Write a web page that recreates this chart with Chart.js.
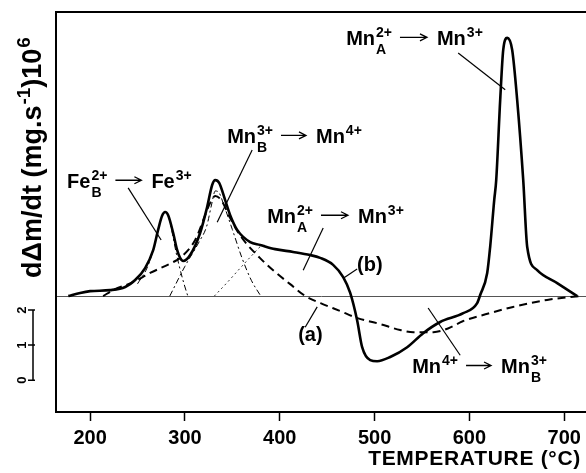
<!DOCTYPE html>
<html>
<head>
<meta charset="utf-8">
<script src="https://cdn.jsdelivr.net/npm/chart.js@4/dist/chart.umd.min.js"></script>
<style>
  html, body { margin: 0; padding: 0; background: #fff; }
  #contenedor { width: 586px; height: 473px; }
</style>
</head>
<body>
<div id="contenedor"><canvas id="grafica" width="586" height="473"></canvas></div>
<script>
// Curva (b), línea continua gruesa: temperatura (°C) y dΔm/dt
const tempB = [177, 189.5, 200, 221, 237, 247.5, 258, 266.5, 271.7, 275.9, 279.1, 282.3, 287.6, 291.8, 294.9, 298.1,
  305.5, 316, 323.4, 328.7, 331.9, 336.1, 342.4, 347.7, 355.1, 368.8, 379.3, 395.1, 414.1, 432.1, 442.6, 456.3,
  466.9, 474.3, 481.6, 486.9, 495.4, 502.7, 516.5, 534.4, 551.3, 569.2, 593.5, 608.2, 611.4, 618.8, 621.9, 626.2,
  628.3, 632.5, 635.7, 639.9, 645.1, 650.4, 656.8, 661, 671.5, 692.6, 713.7];
const valB = [0, 0.09, 0.14, 0.17, 0.26, 0.46, 0.8, 1.31, 1.89, 2.29, 2.4, 2.31, 1.8, 1.31, 1.09, 1.0,
  1.17, 1.8, 2.54, 3.17, 3.31, 3.23, 2.74, 2.31, 1.89, 1.54, 1.46, 1.34, 1.26, 1.17, 1.09, 0.89,
  0.54, 0.09, -0.69, -1.46, -1.83, -1.86, -1.74, -1.46, -1.06, -0.74, -0.49, -0.2, 0.03, 0.66, 1.4, 2.74,
  3.31, 5.6, 7.03, 7.37, 7.03, 5.6, 3.31, 1.4, 0.74, 0.37, 0];

// Curva (a), línea discontinua
const tempA = [213.7, 224.3, 245.4, 263.3, 287.6, 294.9, 310.8, 321.3, 326.6, 331.9, 338.2, 347.7, 358, 379, 395,
  411, 427, 443, 464, 482, 506, 527, 541, 562, 578, 593, 620, 646, 682, 716];
const valA = [0, 0.17, 0.4, 0.66, 0.97, 1.09, 1.6, 2.31, 2.66, 2.86, 2.74, 2.23, 1.74, 1.09, 0.69,
  0.34, 0, -0.2, -0.43, -0.63, -0.8, -0.97, -1.03, -1.03, -0.92, -0.72, -0.5, -0.31, -0.11, 0];

// Componentes de la deconvolución (líneas finas)
const tempFe = [250, 260, 266.5, 271.7, 275.9, 279.1, 282.3, 287, 291, 295, 299, 303];
const valFe = [0.35, 0.8, 1.31, 1.89, 2.29, 2.4, 2.31, 1.75, 1.2, 0.75, 0.35, 0];
const tempMnB = [284, 300, 315, 323, 328, 332, 336, 341, 350, 360, 370, 380];
const valMnB = [0, 0.85, 1.55, 2.0, 2.6, 3.0, 2.95, 2.6, 1.9, 1.1, 0.45, 0];
const tempMnA = [331, 345, 360, 372, 380, 384];
const valMnA = [0, 0.4, 0.85, 1.2, 1.42, 1.45];

// Marcas del eje X y barra de escala del lado izquierdo
const ticksX = [200, 300, 400, 500, 600, 700];
const barraValores = [-2.4, -1.4, -0.4];
const barraEtiquetas = ['0', '1', '2'];

const FUENTE = '"Liberation Sans", Arial, Helvetica, sans-serif';

function puntos(xs, ys) {
    return xs.map((x, i) => ({ x: x, y: ys[i] }));
}

// Dibuja texto con superíndices, subíndices y flechas
function textoRico(ctx, x, y, partes, tam) {
    let cx = x;
    ctx.fillStyle = '#000';
    ctx.strokeStyle = '#000';
    ctx.textBaseline = 'alphabetic';
    ctx.textAlign = 'left';
    for (const p of partes) {
        if (typeof p === 'string') {
            ctx.font = `bold ${tam}px ${FUENTE}`;
            ctx.fillText(p, cx, y);
            cx += ctx.measureText(p).width;
        } else if (p.flecha) {
            const y0 = y - tam * 0.38;
            const x0 = cx + 8;
            const x1 = x0 + p.flecha;
            ctx.lineWidth = 1.3;
            ctx.beginPath();
            ctx.moveTo(x0, y0);
            ctx.lineTo(x1, y0);
            ctx.moveTo(x1 - 7, y0 - 3.5);
            ctx.lineTo(x1, y0);
            ctx.lineTo(x1 - 7, y0 + 3.5);
            ctx.stroke();
            cx = x1 + 10;
        } else {
            ctx.font = `bold ${Math.round(tam * 0.72)}px ${FUENTE}`;
            let w = 0;
            if (p.sup) {
                ctx.fillText(p.sup, cx + 1, y - tam * 0.4);
                w = Math.max(w, ctx.measureText(p.sup).width);
            }
            if (p.sub) {
                ctx.fillText(p.sub, cx + 1, y + tam * 0.45);
                w = Math.max(w, ctx.measureText(p.sub).width);
            }
            cx += w + 1;
        }
    }
    return cx - x;
}

// Etiquetas de las transiciones, en coordenadas de datos (temperatura, valor)
const etiquetas = [
    { t: 175.7, v: 3.09, partes: ['Fe', { sup: '2+', sub: 'B' }, { flecha: 26 }, 'Fe', { sup: '3+' }], linea: [240.1, 3.09, 274.9, 1.6] },
    { t: 344.5, v: 4.37, partes: ['Mn', { sup: '3+', sub: 'B' }, { flecha: 25 }, 'Mn', { sup: '4+' }], linea: [370.9, 4.17, 334.0, 2.11] },
    { t: 386.7, v: 2.09, partes: ['Mn', { sup: '2+', sub: 'A' }, { flecha: 27 }, 'Mn', { sup: '3+' }], linea: [445.8, 1.94, 424.7, 0.74] },
    { t: 481.6, v: 0.71, partes: ['(b)'], linea: [481.6, 0.77, 467, 0.51] },
    { t: 470, v: 7.17, partes: ['Mn', { sup: '2+', sub: 'A' }, { flecha: 27 }, 'Mn', { sup: '3+' }], linea: [588.2, 6.94, 637.8, 5.89] },
    { t: 419.4, v: -1.29, partes: ['(a)'], linea: [426.8, -0.89, 439.5, -0.31] },
    { t: 539.7, v: -2.2, partes: ['Mn', { sup: '4+' }, { flecha: 25 }, 'Mn', { sup: '3+', sub: 'B' }], linea: [556.5, -0.34, 590.3, -1.69] }
];

const pluginAnotaciones = {
    id: 'anotaciones',
    afterDraw(chart) {
        const ctx = chart.ctx;
        const sx = chart.scales.x;
        const sy = chart.scales.y;
        const area = chart.chartArea;
        ctx.save();

        // Borde superior
        ctx.strokeStyle = '#000';
        ctx.lineWidth = 2;
        ctx.beginPath();
        ctx.moveTo(area.left, area.top);
        ctx.lineTo(area.right, area.top);
        ctx.stroke();

        // Etiquetas y sus líneas indicadoras
        for (const e of etiquetas) {
            textoRico(ctx, sx.getPixelForValue(e.t), sy.getPixelForValue(e.v), e.partes, 20);
            const l = e.linea;
            ctx.lineWidth = 1.2;
            ctx.beginPath();
            ctx.moveTo(sx.getPixelForValue(l[0]), sy.getPixelForValue(l[1]));
            ctx.lineTo(sx.getPixelForValue(l[2]), sy.getPixelForValue(l[3]));
            ctx.stroke();
        }

        // Título del eje X
        ctx.save();
        ctx.font = `bold 21px ${FUENTE}`;
        ctx.letterSpacing = '0.7px';
        ctx.textAlign = 'right';
        ctx.textBaseline = 'alphabetic';
        ctx.fillText('TEMPERATURE (°C)', area.right - 5, 465);
        ctx.restore();

        // Título del eje Y, girado
        ctx.save();
        ctx.translate(41, 278);
        ctx.rotate(-Math.PI / 2);
        textoRico(ctx, 0, 0, ['dΔm/dt (mg.s', { sup: '-1' }, ')10', { sup: '6' }], 27);
        ctx.restore();

        // Barra de escala para la parte inferior
        const bx = area.left - 23;
        const yArriba = sy.getPixelForValue(barraValores[barraValores.length - 1]);
        const yAbajo = sy.getPixelForValue(barraValores[0]);
        ctx.lineWidth = 1.5;
        ctx.beginPath();
        ctx.moveTo(bx, yArriba);
        ctx.lineTo(bx, yAbajo);
        barraValores.forEach(v => {
            const yy = sy.getPixelForValue(v);
            ctx.moveTo(bx - 5, yy);
            ctx.lineTo(bx + 2, yy);
        });
        ctx.stroke();
        barraValores.forEach((v, i) => {
            ctx.save();
            ctx.translate(bx - 11, sy.getPixelForValue(v));
            ctx.rotate(-Math.PI / 2);
            ctx.font = `bold 13px ${FUENTE}`;
            ctx.textAlign = 'center';
            ctx.textBaseline = 'middle';
            ctx.fillText(barraEtiquetas[i], 0, 0);
            ctx.restore();
        });

        ctx.restore();
    }
};

const lienzo = document.getElementById('grafica').getContext('2d');
const grafica = new Chart(lienzo, {
    type: 'line',
    data: {
        datasets: [
            { data: puntos(tempB, valB), borderColor: '#000', borderWidth: 2.6 },
            { data: puntos(tempA, valA), borderColor: '#000', borderWidth: 2, borderDash: [8, 5] },
            { data: puntos(tempFe, valFe), borderColor: '#000', borderWidth: 1, borderDash: [6, 3, 2, 3] },
            { data: puntos(tempMnB, valMnB), borderColor: '#000', borderWidth: 1, borderDash: [6, 3, 2, 3] },
            { data: puntos(tempMnA, valMnA), borderColor: '#333', borderWidth: 1, borderDash: [2, 3] }
        ]
    },
    options: {
        responsive: false,
        animation: false,
        devicePixelRatio: 1,
        layout: { padding: { top: 12, left: 0, right: 0, bottom: 0 } },
        elements: {
            point: { radius: 0 },
            line: { cubicInterpolationMode: 'monotone', fill: false }
        },
        plugins: {
            legend: { display: false },
            tooltip: { enabled: false }
        },
        scales: {
            x: {
                type: 'linear',
                min: 164,
                max: 723,
                afterBuildTicks: (scale) => { scale.ticks = ticksX.map(v => ({ value: v })); },
                afterFit: (scale) => { scale.height = 61; },
                ticks: {
                    color: '#000',
                    padding: 5,
                    maxRotation: 0,
                    font: { family: FUENTE, size: 20, weight: 'bold' }
                },
                grid: { drawOnChartArea: false, drawTicks: true, tickLength: 9, tickWidth: 1.5, tickColor: '#000' },
                border: { display: true, color: '#000', width: 2 }
            },
            y: {
                type: 'linear',
                min: -3.31,
                max: 8.11,
                afterBuildTicks: (scale) => { scale.ticks = [{ value: 0 }]; },
                afterFit: (scale) => { scale.width = 56; },
                ticks: { display: false },
                grid: { drawTicks: false, color: '#555', lineWidth: 1 },
                border: { display: true, color: '#000', width: 2 }
            }
        }
    },
    plugins: [pluginAnotaciones]
});
</script>
</body>
</html>
